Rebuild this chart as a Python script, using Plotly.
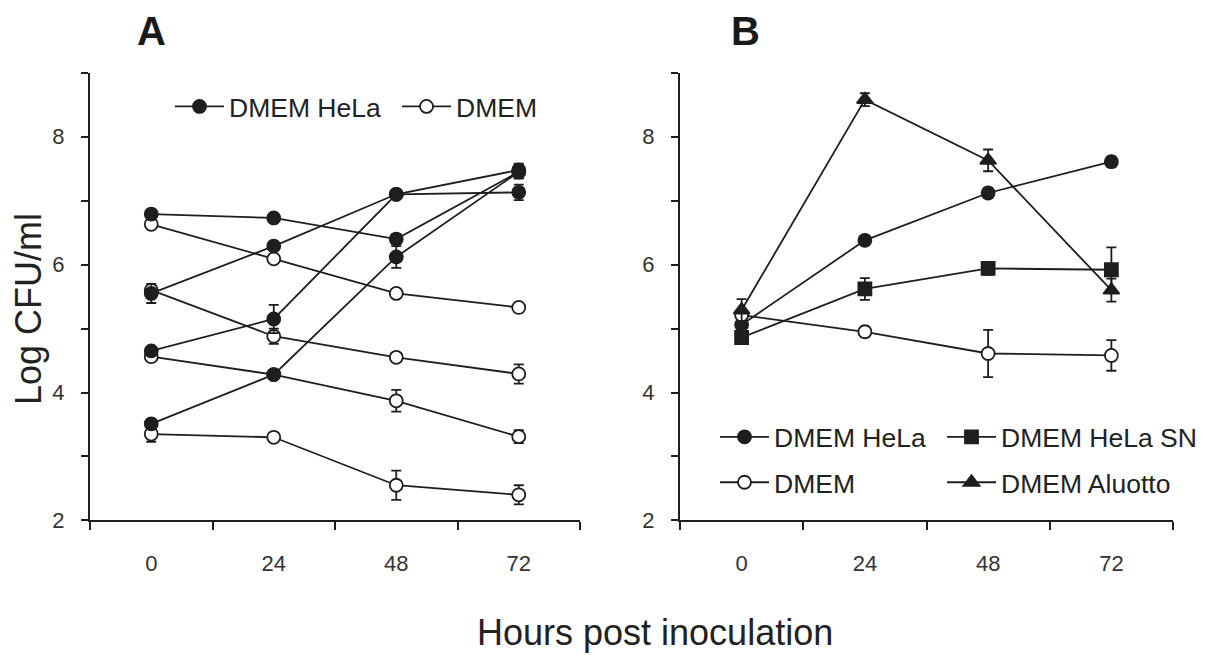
import plotly.graph_objects as go

hours = ["0", "24", "48", "72"]

# Panel A: DMEM HeLa (filled circles), four experiments
a_hela = [
    [6.79, 6.73, 6.40, 7.45],
    [5.55, 6.29, 7.10, 7.13],
    [4.65, 5.15, 7.10, 7.48],
    [3.51, 4.28, 6.12, 7.45],
]
a_hela_err = [
    [0.05, 0.05, 0.08, 0.10],
    [0.15, 0.05, 0.05, 0.12],
    [0.05, 0.22, 0.05, 0.10],
    [0.05, 0.05, 0.17, 0.10],
]
# Panel A: DMEM (open circles), four experiments
a_dmem = [
    [6.63, 6.09, 5.55, 5.33],
    [5.60, 4.88, 4.55, 4.29],
    [4.56, 4.28, 3.87, 3.31],
    [3.35, 3.30, 2.55, 2.40],
]
a_dmem_err = [
    [0.05, 0.05, 0.05, 0.05],
    [0.05, 0.12, 0.07, 0.15],
    [0.05, 0.05, 0.17, 0.10],
    [0.12, 0.05, 0.23, 0.15],
]

# Panel B
b_hela = [5.06, 6.38, 7.12, 7.61]
b_hela_err = [0.05, 0.05, 0.08, 0.08]
b_hela_sn = [4.86, 5.62, 5.94, 5.92]
b_hela_sn_err = [0.05, 0.17, 0.10, 0.35]
b_dmem = [5.21, 4.95, 4.61, 4.58]
b_dmem_err = [0.05, 0.08, 0.37, 0.24]
b_aluotto = [5.29, 8.58, 7.63, 5.60]
b_aluotto_err = [0.17, 0.10, 0.17, 0.18]

y_ticks = [2, 3, 4, 5, 6, 7, 8, 9]
y_ticktext = ["2", "", "4", "", "6", "", "8", ""]

INK = "#1e1e1e"
FONT = "Liberation Sans, Arial, sans-serif"

fig = go.Figure()


def add(x, y, err, name, symbol, fill, xa, ya, legend, showlegend, size=13):
    fig.add_trace(go.Scatter(
        x=x, y=y, mode="lines+markers", name=name,
        xaxis=xa, yaxis=ya, legend=legend,
        legendgroup=legend + name, showlegend=showlegend,
        line=dict(color=INK, width=1.8),
        marker=dict(symbol=symbol, size=size, color=fill,
                    line=dict(color=INK, width=1.8)),
        error_y=dict(type="data", array=err, visible=True,
                     color=INK, thickness=1.8, width=5),
    ))


# Panel A: open first so filled sit on top
for i, (ys, es) in enumerate(zip(a_dmem, a_dmem_err)):
    add(hours, ys, es, "DMEM", "circle", "white", "x", "y", "legend3", i == 0)
for i, (ys, es) in enumerate(zip(a_hela, a_hela_err)):
    add(hours, ys, es, "DMEM HeLa", "circle", INK, "x", "y", "legend", i == 0)

# Panel B
add(hours, b_hela, b_hela_err, "DMEM HeLa", "circle", INK, "x2", "y2", "legend2", True)
add(hours, b_hela_sn, b_hela_sn_err, "DMEM HeLa SN", "square", INK, "x2", "y2", "legend4", True, 13)
add(hours, b_dmem, b_dmem_err, "DMEM", "circle", "white", "x2", "y2", "legend2", True)
add(hours, b_aluotto, b_aluotto_err, "DMEM Aluotto", "triangle-up", INK, "x2", "y2", "legend4", True, 14)

W, H = 1207, 666
HR = 655  # reference height used for fractional positions
ydom = [1 - 522 / HR, 1 - 73 / HR]

xcommon = dict(type="category", categoryorder="array", categoryarray=hours,
               range=[-0.5, 3.5], tickson="boundaries", ticks="outside",
               ticklen=8, tickwidth=2, tickcolor=INK, showline=True,
               linewidth=2, linecolor=INK, showgrid=False, zeroline=False,
               tickfont=dict(size=22, color="#333", family=FONT),
               ticklabelstandoff=22)
ycommon = dict(range=[2, 9], tickvals=y_ticks, ticktext=y_ticktext,
               ticks="outside", ticklen=7, tickwidth=2, tickcolor=INK,
               showline=True, linewidth=2, linecolor=INK, showgrid=False,
               zeroline=False, tickfont=dict(size=22, color="#333", family=FONT),
               ticklabelstandoff=12)

LFONT = dict(size=26.5, color="#222", family=FONT)


def leg(x_px, y_px, gap=0):
    return dict(orientation="v", x=x_px / W, xanchor="left",
                y=1 - y_px / HR, yanchor="middle", font=LFONT,
                bgcolor="rgba(0,0,0,0)", traceorder="grouped",
                tracegroupgap=gap, itemwidth=49)


fig.update_layout(
    width=W, height=H,
    margin=dict(l=0, r=0, t=0, b=0),
    paper_bgcolor="white", plot_bgcolor="white",
    font=dict(family=FONT, color="#222"),
    xaxis=dict(domain=[90 / W, 580 / W], anchor="y", **xcommon),
    yaxis=dict(domain=ydom, anchor="x", **ycommon),
    xaxis2=dict(domain=[680 / W, 1173 / W], anchor="y2", **xcommon),
    yaxis2=dict(domain=ydom, anchor="x2", **ycommon),
    legend=leg(170, 107),
    legend3=leg(397, 107),
    legend2=leg(715, 461, 8),
    legend4=leg(942, 461, 8),
    annotations=[
        dict(text="<b>A</b>", x=151 / W, y=1 - 31 / HR, xref="paper", yref="paper",
             xanchor="center", yanchor="middle", showarrow=False,
             font=dict(size=40, color="#1a1a1a", family=FONT)),
        dict(text="<b>B</b>", x=745 / W, y=1 - 31 / HR, xref="paper", yref="paper",
             xanchor="center", yanchor="middle", showarrow=False,
             font=dict(size=40, color="#1a1a1a", family=FONT)),
        dict(text="Log CFU/ml", x=28 / W, y=1 - 310 / HR, xref="paper", yref="paper",
             xanchor="center", yanchor="middle", textangle=-90, showarrow=False,
             font=dict(size=36, color="#222", family=FONT)),
        dict(text="Hours post inoculation", x=655 / W, y=1 - 634 / HR,
             xref="paper", yref="paper", xanchor="center", yanchor="middle",
             showarrow=False, font=dict(size=36, color="#222", family=FONT)),
    ],
)

page_css = (
    "var s=[document.documentElement.style, document.body.style];"
    "s.forEach(function(t){t.margin='0';t.padding='0';t.overflow='hidden';});"
)

fig.write_html("out.html", config={"displayModeBar": False},
               post_script=page_css)
